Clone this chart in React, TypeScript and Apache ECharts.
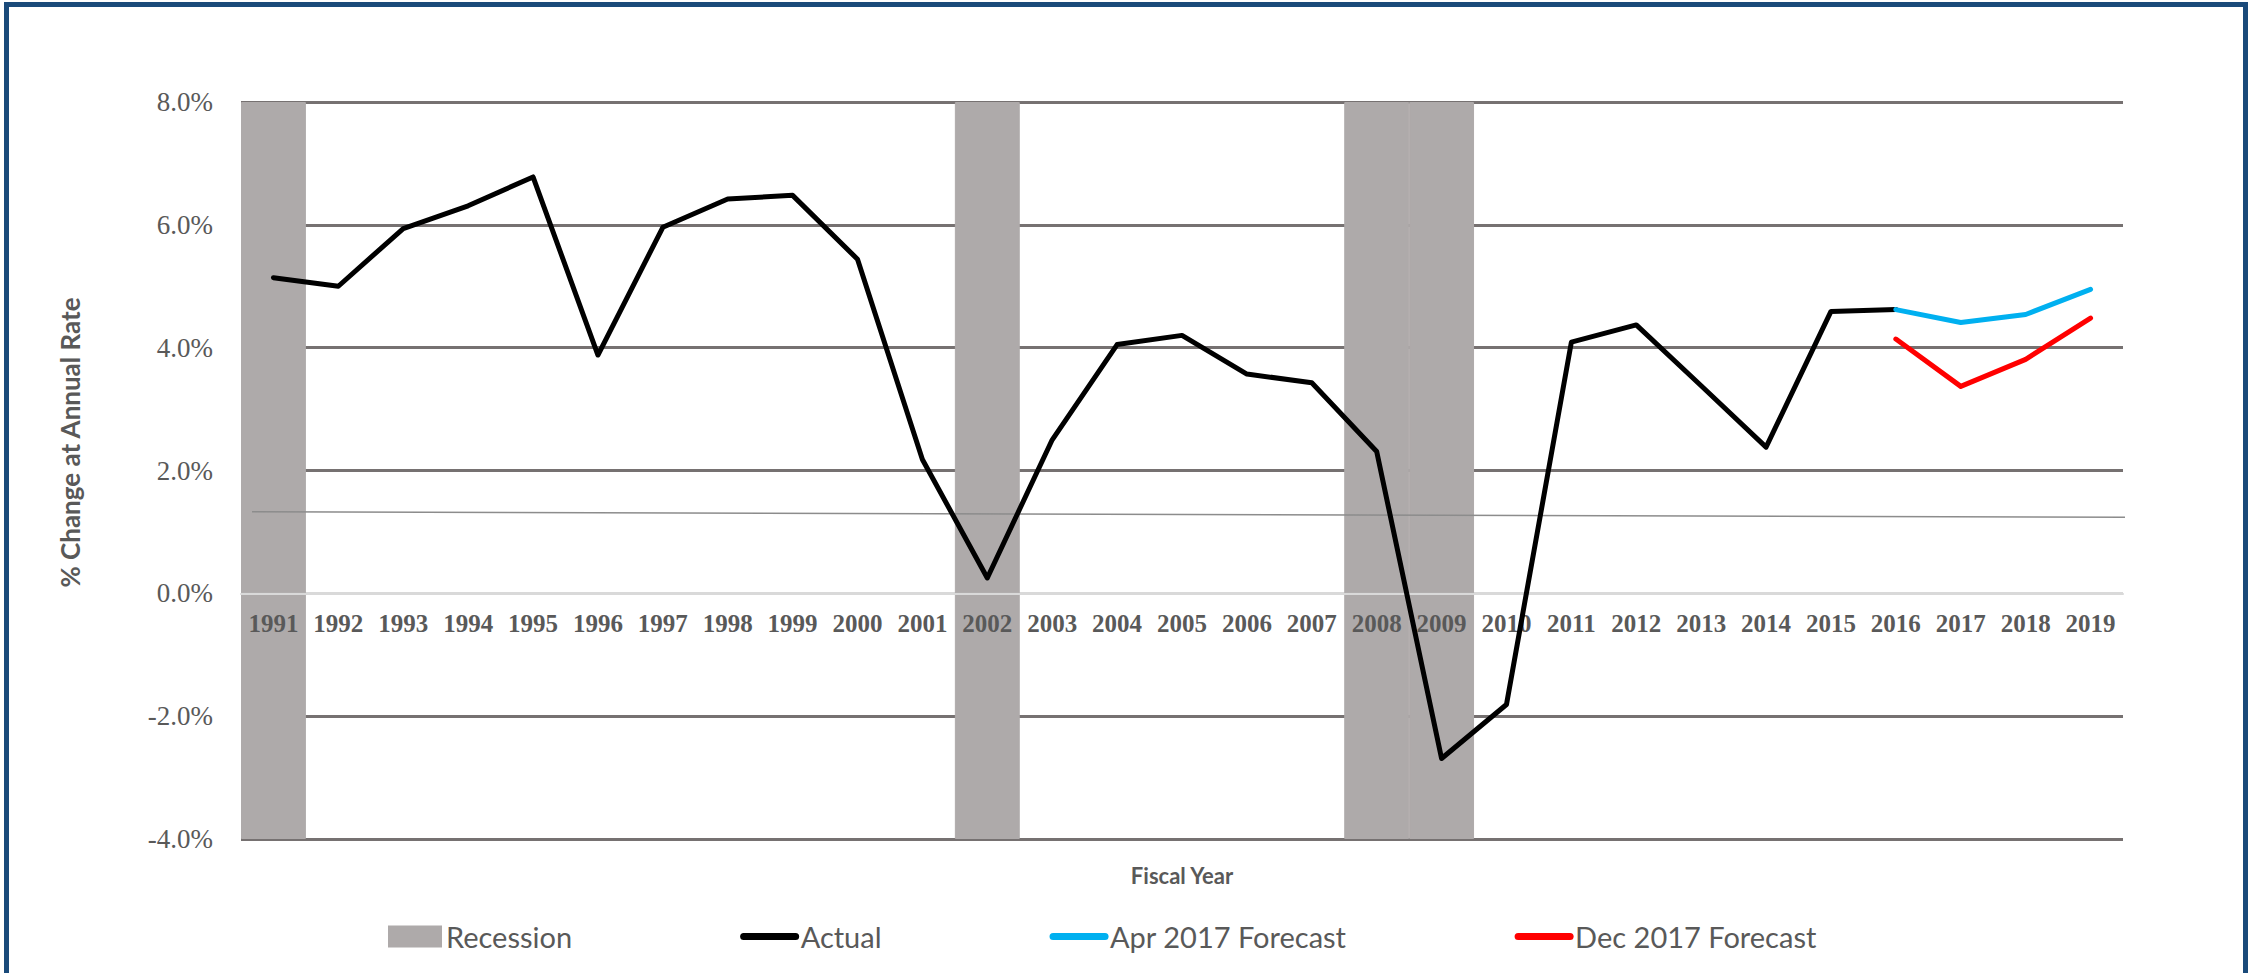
import React, { useEffect, useRef } from "react";
import * as echarts from "echarts";

const years = [
  "1991", "1992", "1993", "1994", "1995", "1996", "1997", "1998", "1999", "2000",
  "2001", "2002", "2003", "2004", "2005", "2006", "2007", "2008", "2009", "2010",
  "2011", "2012", "2013", "2014", "2015", "2016", "2017", "2018", "2019",
];

const actual = [
  5.14, 5.0, 5.94, 6.31, 6.78, 3.88, 5.96, 6.42, 6.48, 5.44,
  2.18, 0.25, 2.5, 4.05, 4.2, 3.57, 3.43, 2.31, -2.69, -1.81,
  4.09, 4.37, 3.38, 2.38, 4.59, 4.62, null, null, null,
];

const aprForecast = [
  null, null, null, null, null, null, null, null, null, null,
  null, null, null, null, null, null, null, null, null, null,
  null, null, null, null, null, 4.62, 4.41, 4.54, 4.95,
];

const decForecast = [
  null, null, null, null, null, null, null, null, null, null,
  null, null, null, null, null, null, null, null, null, null,
  null, null, null, null, null, 4.14, 3.37, 3.81, 4.48,
];

const recessionYears = ["1991", "2002", "2008", "2009"];

// thin reference line drawn across the plot: [category position, value]
const refLine = [
  [-0.33, 1.33],
  [28.65, 1.24],
];

const yMin = -4;
const yMax = 8;
const yStep = 2;

const legendNames = ["Recession", "Actual", "Apr 2017 Forecast", "Dec 2017 Forecast"];

const GRID_TOP = 102;
const GRID_BOTTOM = 134;
const CHART_H = 973;

export default function App() {
  const ref = useRef<HTMLDivElement>(null);

  useEffect(() => {
    if (!ref.current) return;
    const chart = echarts.init(ref.current, undefined, { renderer: "svg" });

    const gridColors: string[] = [];
    for (let v = yMin; v <= yMax; v += yStep) {
      gridColors.push(v === 0 ? "#D9D9D9" : "#767171");
    }

    // move the category axis up so it sits on the zero value line
    const plotH = CHART_H - GRID_TOP - GRID_BOTTOM;
    const zeroOffset = -((0 - yMin) / (yMax - yMin)) * plotH;

    const hiddenSymbol = { opacity: 0 };

    const option: any = {
      animation: false,
      backgroundColor: "#ffffff",
      grid: {
        left: 241,
        right: 129,
        top: GRID_TOP,
        bottom: GRID_BOTTOM,
        containLabel: false,
        outerBoundsMode: "none",
      },
      legend: {
        left: 383,
        top: 917,
        itemWidth: 52,
        itemHeight: 20,
        itemGap: 168,
        data: [
          { name: legendNames[0], icon: "rect" },
          { name: legendNames[1], itemStyle: hiddenSymbol },
          { name: legendNames[2], itemStyle: hiddenSymbol },
          { name: legendNames[3], itemStyle: hiddenSymbol },
        ],
        textStyle: { fontFamily: "Lato", fontSize: 29, color: "#595959" },
        lineStyle: { width: 7, cap: "round" },
      },
      xAxis: [
        {
          type: "category",
          data: years,
          z: 3,
          position: "bottom",
          offset: zeroOffset,
          boundaryGap: true,
          axisLine: { show: true, onZero: false, lineStyle: { color: "#D9D9D9", width: 2 } },
          axisTick: { show: false },
          splitLine: { show: false },
          axisLabel: {
            interval: 0,
            margin: 18,
            fontFamily: "Liberation Serif",
            fontWeight: "bold",
            fontSize: 25,
            color: "#595959",
          },
          name: "Fiscal Year",
          nameLocation: "middle",
          nameGap: 271,
          nameTextStyle: {
            fontFamily: "Lato",
            fontWeight: "bold",
            fontSize: 22,
            color: "#595959",
          },
        },
        {
          type: "value",
          min: -0.5,
          max: years.length - 0.5,
          show: false,
          axisLine: { onZero: false },
        },
      ],
      yAxis: {
        type: "value",
        min: yMin,
        max: yMax,
        interval: yStep,
        axisLine: { show: false, onZero: false },
        axisTick: { show: false },
        axisLabel: {
          formatter: (v: number) => v.toFixed(1) + "%",
          fontFamily: "Liberation Serif",
          fontSize: 27,
          color: "#595959",
          margin: 28,
        },
        splitLine: { show: true, lineStyle: { color: gridColors, width: 3 } },
        name: "% Change at Annual Rate",
        nameLocation: "middle",
        nameRotate: 90,
        nameGap: 158,
        nameTextStyle: {
          fontFamily: "Lato",
          fontWeight: "bold",
          fontSize: 26,
          color: "#595959",
          padding: [0, 0, 0, 56],
        },
      },
      series: [
        {
          name: legendNames[0],
          type: "bar",
          stack: "rec",
          barWidth: "100%",
          barCategoryGap: 0,
          z: 2,
          silent: true,
          itemStyle: { color: "#AEAAAA", borderColor: "#AEAAAA", borderWidth: 1 },
          data: years.map((y) => (recessionYears.includes(y) ? yMax : null)),
        },
        {
          name: "Recession (lower)",
          type: "bar",
          stack: "rec",
          barWidth: "100%",
          barCategoryGap: 0,
          z: 2,
          silent: true,
          itemStyle: { color: "#AEAAAA", borderColor: "#AEAAAA", borderWidth: 1 },
          data: years.map((y) => (recessionYears.includes(y) ? yMin : null)),
        },
        {
          name: "Reference",
          type: "line",
          xAxisIndex: 1,
          data: refLine,
          symbol: "none",
          clip: false,
          silent: true,
          z: 3,
          lineStyle: { color: "#8C8C8C", width: 1.5 },
        },
        {
          name: legendNames[1],
          type: "line",
          data: actual,
          symbol: "none",
          z: 4,
          itemStyle: { color: "#000000" },
          lineStyle: { color: "#000000", width: 5, cap: "round", join: "round" },
        },
        {
          name: legendNames[2],
          type: "line",
          data: aprForecast,
          symbol: "none",
          z: 4,
          itemStyle: { color: "#00B0F0" },
          lineStyle: { color: "#00B0F0", width: 5, cap: "round", join: "round" },
        },
        {
          name: legendNames[3],
          type: "line",
          data: decForecast,
          symbol: "none",
          z: 4,
          itemStyle: { color: "#FF0000" },
          lineStyle: { color: "#FF0000", width: 5, cap: "round", join: "round" },
        },
      ],
    };

    chart.setOption(option);
    return () => chart.dispose();
  }, []);

  return (
    <div
      style={{
        position: "absolute",
        left: 0,
        top: 0,
        width: 2252,
        height: CHART_H,
        overflow: "hidden",
        background: "#ffffff",
      }}
    >
      <div ref={ref} style={{ position: "absolute", left: 0, top: 0, width: 2252, height: CHART_H }} />
      <div
        style={{
          position: "absolute",
          left: 4,
          top: 2,
          width: 2244,
          height: 1200,
          border: "5px solid #1A4A7A",
          borderBottom: "none",
          boxSizing: "border-box",
          pointerEvents: "none",
        }}
      />
    </div>
  );
}
